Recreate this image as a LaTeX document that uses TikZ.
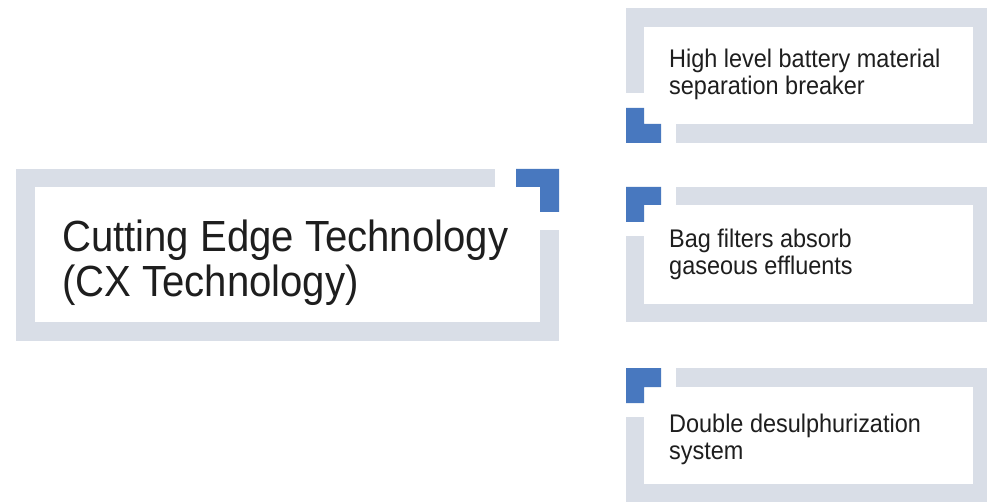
\documentclass[tikz,border=0pt]{standalone}
\usepackage{fontspec}
\setmainfont{Liberation Sans}[FakeStretch=0.92]
\definecolor{framegray}{HTML}{D9DEE7}
\definecolor{accentblue}{HTML}{4878BF}
\definecolor{inktext}{HTML}{1E1E1E}
\tikzset{
  graybar/.style={fill=framegray, draw=none},
  bluebar/.style={fill=accentblue, draw=none},
  bigtext/.style={inner sep=0pt, anchor=base west, align=left, text=inktext,
    font=\fontsize{43.6}{45}\selectfont},
  smalltext/.style={inner sep=0pt, anchor=base west, align=left, text=inktext,
    font=\fontsize{25.5}{27}\selectfont},
}
\begin{document}
\begin{tikzpicture}[x=1pt,y=-1pt]
\useasboundingbox[fill=white] (0,0) rectangle (987,502);
% main box frame
\fill[graybar] (16,169) rectangle (495,187);
\fill[graybar] (16,169) rectangle (35,341);
\fill[graybar] (16,322) rectangle (559,341);
\fill[graybar] (540,230) rectangle (559,341);
\fill[bluebar] (516,169) -- (559,169) -- (559,212) -- (540,212) -- (540,187) -- (516,187) -- cycle;
% anchor = baseline of the last line
\node[bigtext] (main) at (62,297) {Cutting Edge Technology\\(CX Technology)};
% box 1
\fill[graybar] (626,8) rectangle (987,27);
\fill[graybar] (626,8) rectangle (644,93);
\fill[graybar] (973,8) rectangle (987,143);
\fill[graybar] (676,124) rectangle (987,143);
\fill[bluebar] (626,108) -- (644,108) -- (644,124) -- (661,124) -- (661,143) -- (626,143) -- cycle;
\node[smalltext] (b1) at (669,95) {High level battery material\\separation breaker};
% box 2
\fill[graybar] (676,187) rectangle (987,205);
\fill[graybar] (626,236) rectangle (644,322);
\fill[graybar] (626,304) rectangle (987,322);
\fill[graybar] (973,187) rectangle (987,322);
\fill[bluebar] (626,187) -- (661,187) -- (661,205) -- (644,205) -- (644,222) -- (626,222) -- cycle;
\node[smalltext] (b2) at (669,275) {Bag filters absorb\\gaseous effluents};
% box 3
\fill[graybar] (676,368) rectangle (987,387);
\fill[graybar] (626,417) rectangle (644,502);
\fill[graybar] (626,484) rectangle (987,502);
\fill[graybar] (973,368) rectangle (987,502);
\fill[bluebar] (626,368) -- (661,368) -- (661,387) -- (644,387) -- (644,403) -- (626,403) -- cycle;
\node[smalltext] (b3) at (669,459) {Double desulphurization\\system};
\end{tikzpicture}
\end{document}
